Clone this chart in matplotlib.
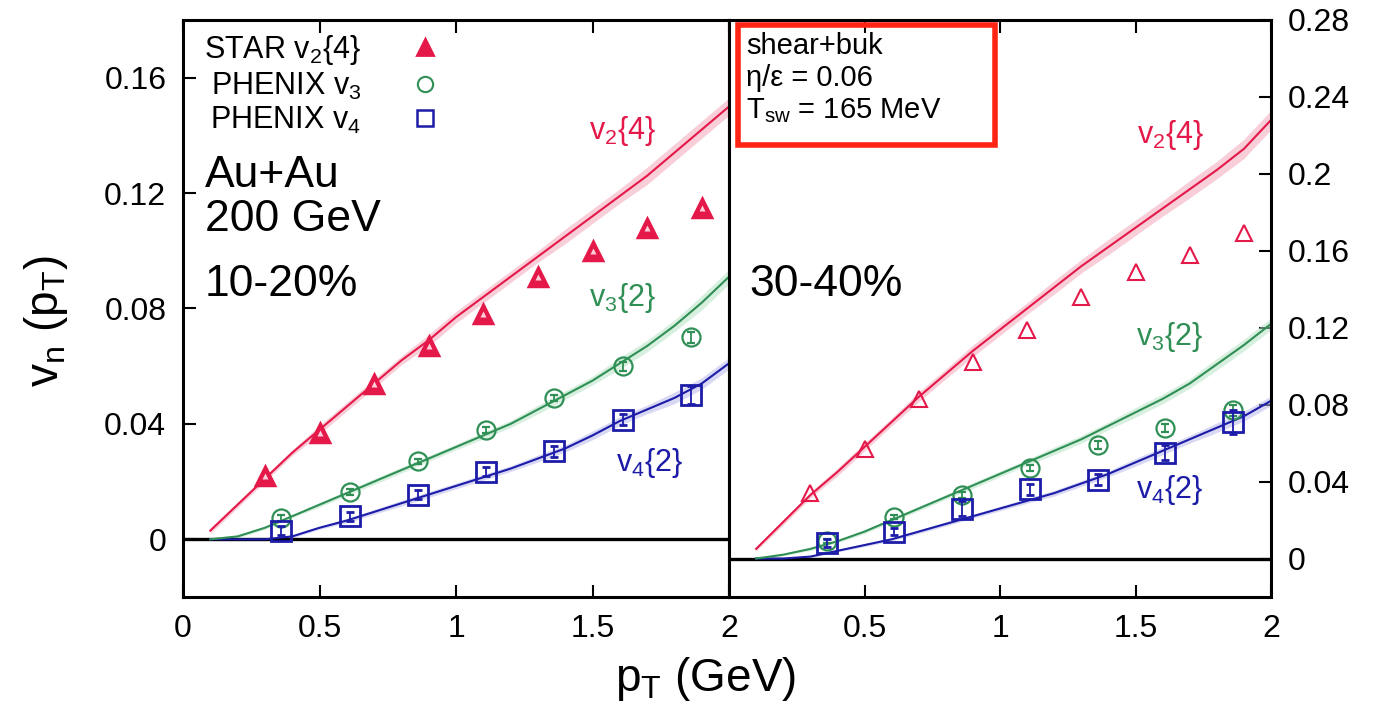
import matplotlib
matplotlib.use("Agg")
import matplotlib.pyplot as plt
from matplotlib.patches import Rectangle
from matplotlib.ticker import FixedLocator, FuncFormatter
from matplotlib.lines import Line2D

plt.rcParams['font.family'] = ['Liberation Sans', 'DejaVu Sans']
plt.rcParams['mathtext.fontset'] = 'custom'
plt.rcParams['mathtext.rm'] = 'Liberation Sans'
plt.rcParams['mathtext.it'] = 'Liberation Sans'
plt.rcParams['mathtext.bf'] = 'Liberation Sans:bold'

# ---- measured data -------------------------------------------------------
pt_star = [0.3, 0.5, 0.7, 0.9, 1.1, 1.3, 1.5, 1.7, 1.9]
pt_phenix = [0.36, 0.61, 0.86, 1.11, 1.36, 1.61, 1.86]

# 10-20% centrality
star_v24_1020 = [0.022, 0.037, 0.054, 0.067, 0.078, 0.091, 0.100, 0.108, 0.115]
phenix_v3_1020 = [0.0075, 0.0165, 0.027, 0.038, 0.049, 0.060, 0.070]
phenix_v3_err_1020 = [0.001, 0.001, 0.001, 0.001, 0.001, 0.0015, 0.002]
phenix_v4_1020 = [0.003, 0.008, 0.0155, 0.0235, 0.0305, 0.0415, 0.050]
phenix_v4_err_1020 = [0.0015, 0.0015, 0.0015, 0.0015, 0.002, 0.002, 0.003]

# 30-40% centrality
star_v24_3040 = [0.034, 0.057, 0.083, 0.102, 0.119, 0.136, 0.149, 0.158, 0.169]
phenix_v3_3040 = [0.009, 0.0215, 0.033, 0.047, 0.059, 0.068, 0.077]
phenix_v3_err_3040 = [0.001, 0.001, 0.0015, 0.0015, 0.002, 0.002, 0.003]
phenix_v4_3040 = [0.008, 0.014, 0.026, 0.036, 0.041, 0.055, 0.071]
phenix_v4_err_3040 = [0.002, 0.002, 0.004, 0.003, 0.003, 0.004, 0.006]

# ---- hydrodynamic calculation (shear+bulk) --------------------------------
pt_hydro = [0.1, 0.2, 0.3, 0.4, 0.5, 0.6, 0.7, 0.8, 0.9, 1.0,
            1.1, 1.2, 1.3, 1.4, 1.5, 1.6, 1.7, 1.8, 1.9, 2.0]

hydro_v24_1020 = [0.003, 0.012, 0.021, 0.030, 0.038, 0.046, 0.054, 0.062, 0.069, 0.077,
                  0.084, 0.091, 0.098, 0.105, 0.112, 0.119, 0.126, 0.134, 0.142, 0.150]
hydro_v24_err_1020 = [0.001, 0.001, 0.001, 0.001, 0.0015, 0.0015, 0.0015, 0.0015, 0.002, 0.002,
                      0.002, 0.002, 0.002, 0.0025, 0.0025, 0.0025, 0.003, 0.003, 0.003, 0.003]
hydro_v32_1020 = [0.000, 0.001, 0.004, 0.008, 0.012, 0.016, 0.020, 0.024, 0.028, 0.032,
                  0.036, 0.040, 0.045, 0.050, 0.055, 0.061, 0.067, 0.074, 0.082, 0.091]
hydro_v32_err_1020 = [0.0005, 0.0005, 0.0005, 0.0005, 0.0008, 0.0008, 0.001, 0.001, 0.001, 0.001,
                      0.0012, 0.0012, 0.0015, 0.0015, 0.0015, 0.002, 0.002, 0.002, 0.0025, 0.0025]
hydro_v42_1020 = [0.000, 0.000, 0.000, 0.001, 0.004, 0.0065, 0.0095, 0.0125, 0.0155, 0.0185,
                  0.0215, 0.0245, 0.028, 0.0315, 0.036, 0.041, 0.045, 0.049, 0.054, 0.061]
hydro_v42_err_1020 = [0.0005, 0.0005, 0.0005, 0.0005, 0.0005, 0.0008, 0.0008, 0.001, 0.001, 0.001,
                      0.001, 0.001, 0.0012, 0.0012, 0.0015, 0.0015, 0.0015, 0.002, 0.002, 0.002]

hydro_v24_3040 = [0.005, 0.019, 0.033, 0.045, 0.058, 0.071, 0.084, 0.096, 0.108, 0.119,
                  0.130, 0.141, 0.152, 0.162, 0.172, 0.182, 0.192, 0.202, 0.213, 0.228]
hydro_v24_err_3040 = [0.001, 0.0015, 0.0015, 0.002, 0.002, 0.002, 0.0025, 0.0025, 0.003, 0.003,
                      0.003, 0.0035, 0.0035, 0.004, 0.004, 0.004, 0.0045, 0.0045, 0.005, 0.005]
hydro_v32_3040 = [0.000, 0.002, 0.005, 0.009, 0.014, 0.020, 0.026, 0.032, 0.038, 0.044,
                  0.050, 0.056, 0.062, 0.069, 0.076, 0.083, 0.091, 0.101, 0.111, 0.122]
hydro_v32_err_3040 = [0.0005, 0.0005, 0.0008, 0.0008, 0.001, 0.001, 0.0012, 0.0012, 0.0015, 0.0015,
                      0.0015, 0.002, 0.002, 0.002, 0.0025, 0.0025, 0.0025, 0.003, 0.003, 0.003]
hydro_v42_3040 = [0.000, 0.000, 0.001, 0.004, 0.007, 0.010, 0.014, 0.018, 0.022, 0.026,
                  0.030, 0.034, 0.039, 0.044, 0.050, 0.056, 0.062, 0.068, 0.074, 0.082]
hydro_v42_err_3040 = [0.0005, 0.0005, 0.0005, 0.0005, 0.0008, 0.0008, 0.001, 0.001, 0.001, 0.0012,
                      0.0012, 0.0015, 0.0015, 0.0015, 0.002, 0.002, 0.002, 0.0025, 0.0025, 0.0025]

ytick_left = [0, 0.04, 0.08, 0.12, 0.16]
ytick_right = [0, 0.04, 0.08, 0.12, 0.16, 0.20, 0.24, 0.28]
xtick_left = [0, 0.5, 1, 1.5, 2]
xtick_right = [0.5, 1, 1.5, 2]

# ---- styling -------------------------------------------------------------
RED = '#e4194a'
GREEN = '#2f8f55'
BLUE = '#1c1ca8'
BAND_RED = '#f4a6b8'
BAND_GREEN = '#b7e3c6'
BAND_BLUE = '#b9b9ec'
TICK_FS = 23
LABEL_FS = 22
BIG_FS = 32

W, H = 1389, 713
fig = plt.figure(figsize=(W / 100, H / 100), dpi=100)
x0, x1, x2 = 183 / W, 729 / W, 1271 / W
yb, yt = 1 - 597 / H, 1 - 20 / H
axL = fig.add_axes([x0, yb, x1 - x0, yt - yb])
axR = fig.add_axes([x1, yb, x2 - x1, yt - yb])

fmt = FuncFormatter(lambda v, p: '%g' % round(v, 3))


def style(ax):
    for s in ax.spines.values():
        s.set_linewidth(2.2)
        s.set_zorder(10)
    ax.tick_params(direction='in', length=9, width=1.5, labelsize=TICK_FS,
                   top=True, bottom=True, pad=12)


def draw(ax, hv2, hv2e, hv3, hv3e, hv4, hv4e, sv2, pv3, pv3e, pv4, pv4e, tri_filled):
    ax.axhline(0, color='black', lw=2.4, zorder=3)
    for y, e, c, bc in ((hv4, hv4e, BLUE, BAND_BLUE),
                        (hv3, hv3e, GREEN, BAND_GREEN),
                        (hv2, hv2e, RED, BAND_RED)):
        lo = [a - b for a, b in zip(y, e)]
        hi = [a + b for a, b in zip(y, e)]
        ax.fill_between(pt_hydro, lo, hi, color=bc, alpha=0.55, lw=0, zorder=2)
        ax.plot(pt_hydro, y, color=c, lw=1.5, zorder=4)
    if tri_filled:
        ax.plot(pt_star, sv2, ls='none', marker='^', ms=13, mfc=RED, mec=RED,
                mew=2.5, zorder=6)
        ax.plot(pt_star, sv2, ls='none', marker='^', ms=4, mfc='#ffd0da', mec='none',
                zorder=7)
    else:
        ax.plot(pt_star, sv2, ls='none', marker='^', ms=12, mfc='none', mec=RED,
                mew=1.5, zorder=6)
    ax.errorbar(pt_phenix, pv3, yerr=pv3e, ls='none', marker='o', ms=13, mfc='none',
                mec=GREEN, mew=1.6, ecolor=GREEN, elinewidth=1.3, capsize=3, zorder=6)
    ax.errorbar(pt_phenix, pv4, yerr=pv4e, ls='none', marker='s', ms=15, mfc='none',
                mec=BLUE, mew=2.0, ecolor=BLUE, elinewidth=1.3, capsize=3, zorder=7)


# ---- left panel: 10-20% ---------------------------------------------------
draw(axL, hydro_v24_1020, hydro_v24_err_1020, hydro_v32_1020, hydro_v32_err_1020,
     hydro_v42_1020, hydro_v42_err_1020, star_v24_1020,
     phenix_v3_1020, phenix_v3_err_1020, phenix_v4_1020, phenix_v4_err_1020, True)
axL.set_xlim(0, 2)
axL.set_ylim(-0.02, 0.18)
axL.xaxis.set_major_locator(FixedLocator(xtick_left))
axL.yaxis.set_major_locator(FixedLocator(ytick_left))
axL.xaxis.set_major_formatter(fmt)
axL.yaxis.set_major_formatter(fmt)
style(axL)

legend_handles = [
    Line2D([], [], ls='none', marker='^', ms=11, mfc=RED, mec=RED, mew=2),
    Line2D([], [], ls='none', marker='o', ms=11, mfc='none', mec=GREEN, mew=1.5),
    Line2D([], [], ls='none', marker='s', ms=12, mfc='none', mec=BLUE, mew=1.8),
]
legend_labels = [r'STAR v$_2${4}', r'PHENIX v$_3$', r'PHENIX v$_4$']
axL.legend(legend_handles, legend_labels, loc='upper left', bbox_to_anchor=(0.0, 1.015),
           frameon=False, markerfirst=False, fontsize=LABEL_FS, handlelength=1.0,
           handletextpad=1.6, labelspacing=0.12, borderaxespad=0.3)

axL.text(0.04, 0.73, 'Au+Au', transform=axL.transAxes, fontsize=BIG_FS, va='center')
axL.text(0.04, 0.655, '200 GeV', transform=axL.transAxes, fontsize=BIG_FS, va='center')
axL.text(0.04, 0.542, '10-20%', transform=axL.transAxes, fontsize=BIG_FS, va='center')
axL.text(0.743, 0.808, r'v$_2${4}', transform=axL.transAxes, fontsize=LABEL_FS,
         color=RED, va='center')
axL.text(0.743, 0.518, r'v$_3${2}', transform=axL.transAxes, fontsize=LABEL_FS,
         color=GREEN, va='center')
axL.text(0.793, 0.232, r'v$_4${2}', transform=axL.transAxes, fontsize=LABEL_FS,
         color=BLUE, va='center')

# ---- right panel: 30-40% --------------------------------------------------
draw(axR, hydro_v24_3040, hydro_v24_err_3040, hydro_v32_3040, hydro_v32_err_3040,
     hydro_v42_3040, hydro_v42_err_3040, star_v24_3040,
     phenix_v3_3040, phenix_v3_err_3040, phenix_v4_3040, phenix_v4_err_3040, False)
axR.set_xlim(0, 2)
axR.set_ylim(-0.02, 0.28)
axR.xaxis.set_major_locator(FixedLocator(xtick_right))
axR.yaxis.set_major_locator(FixedLocator(ytick_right))
axR.xaxis.set_major_formatter(fmt)
axR.yaxis.set_major_formatter(fmt)
axR.yaxis.tick_right()
style(axR)
axR.tick_params(axis='y', left=False, right=True, labelleft=False, labelright=True)

axR.text(0.037, 0.542, '30-40%', transform=axR.transAxes, fontsize=BIG_FS, va='center')
axR.text(0.752, 0.80, r'v$_2${4}', transform=axR.transAxes, fontsize=LABEL_FS,
         color=RED, va='center')
axR.text(0.750, 0.45, r'v$_3${2}', transform=axR.transAxes, fontsize=LABEL_FS,
         color=GREEN, va='center')
axR.text(0.750, 0.185, r'v$_4${2}', transform=axR.transAxes, fontsize=LABEL_FS,
         color=BLUE, va='center')

BOX_FS = 21
axR.text(0.031, 0.955, 'shear+buk', transform=axR.transAxes, fontsize=BOX_FS, va='center')
axR.text(0.031, 0.900, 'η/ε = 0.06', transform=axR.transAxes, fontsize=BOX_FS, va='center')
axR.text(0.031, 0.843, r'T$_{\mathrm{sw}}$ = 165 MeV', transform=axR.transAxes,
         fontsize=BOX_FS, va='center')
axR.add_patch(Rectangle((0.016, 0.783), 0.474, 0.208, transform=axR.transAxes,
                        fill=False, edgecolor='#ff2414', lw=4, clip_on=False, zorder=20))

# ---- axis titles ----------------------------------------------------------
fig.text(0.033, 0.55, r'v$_\mathrm{n}$ (p$_\mathrm{T}$)', rotation=90, fontsize=33,
         ha='center', va='center')
fig.text(0.508, 0.047, r'p$_\mathrm{T}$ (GeV)', fontsize=33, ha='center', va='center')

fig.savefig('out.png', dpi=100)
